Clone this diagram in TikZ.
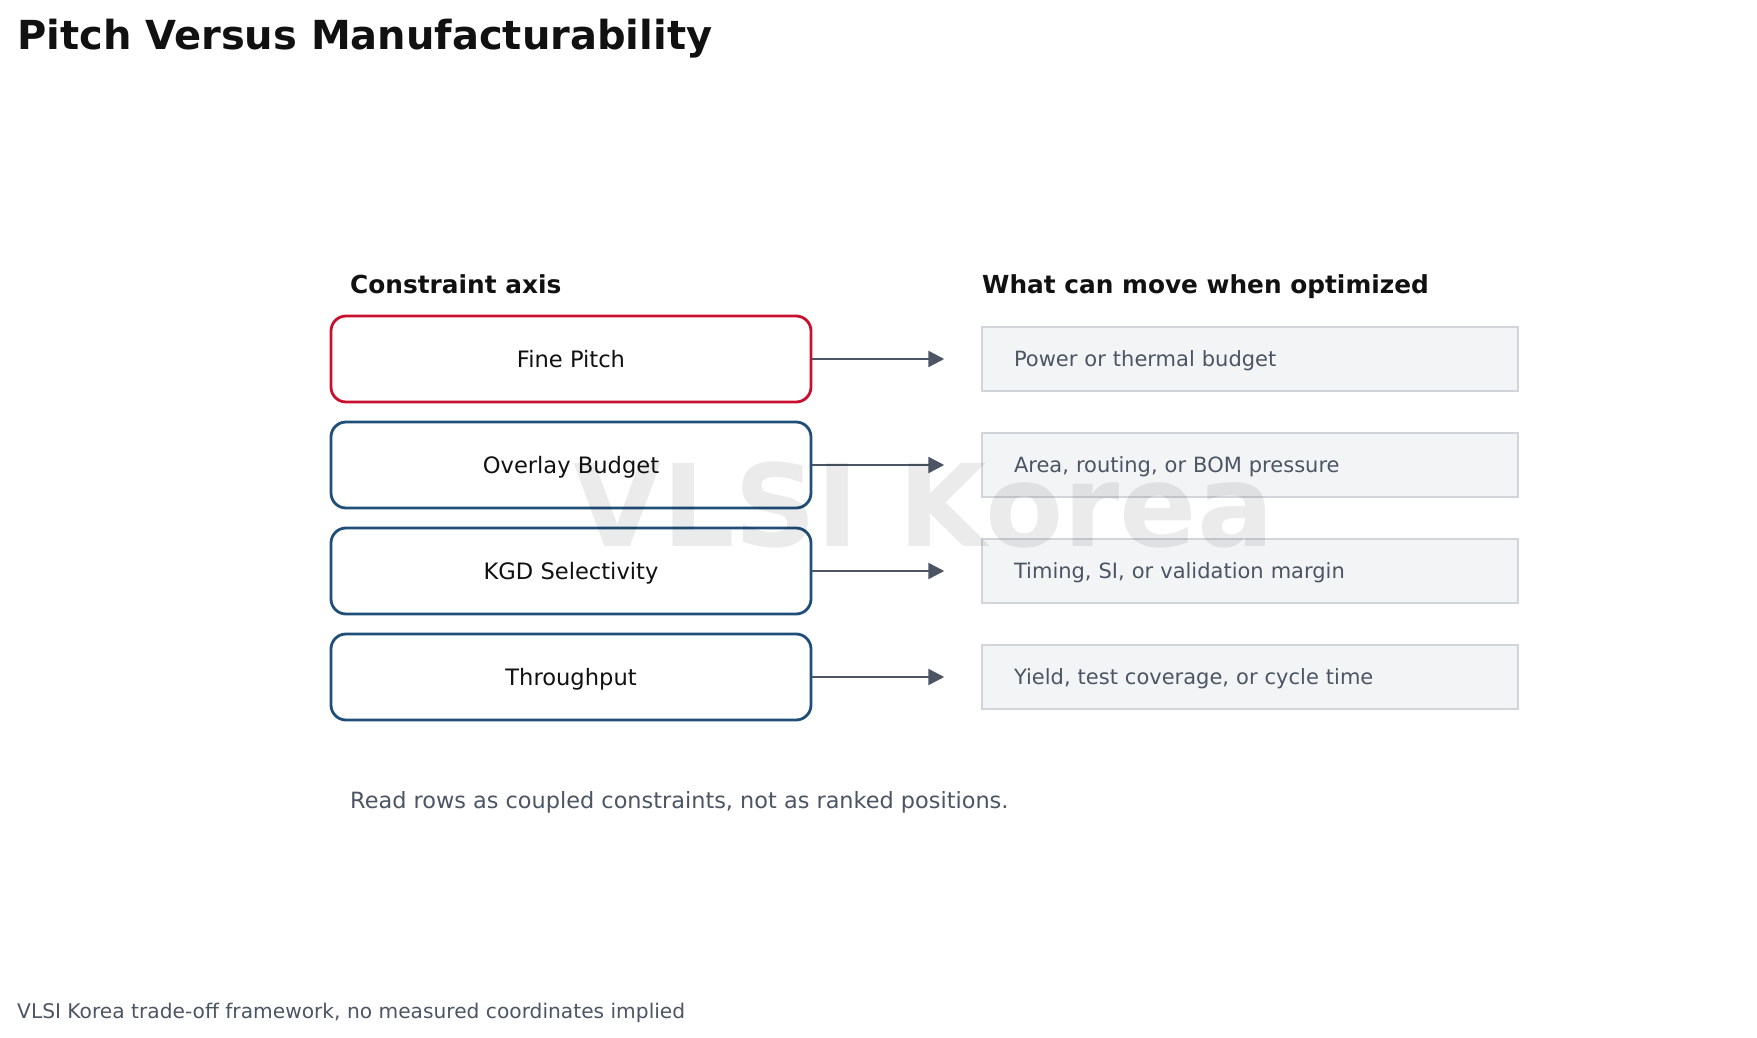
\documentclass[tikz,border=0pt]{standalone}
\usepackage{fontspec}
\setmainfont{DejaVu Sans}
\usepackage{xcolor}
\usetikzlibrary{arrows.meta,positioning}
\definecolor{inkblack}{HTML}{111111}
\definecolor{slate}{HTML}{4B5563}
\definecolor{axisblue}{HTML}{1F4E79}
\definecolor{hotred}{HTML}{C8102E}
\definecolor{boxgray}{HTML}{D1D5DB}
\definecolor{boxfill}{HTML}{F3F4F6}

\begin{document}
\begin{tikzpicture}[x=1pt, y=-1pt,
  axis/.style={draw=axisblue, line width=2.8pt, rounded corners=15pt, fill=white, minimum width=480pt, minimum height=86pt, text depth=0pt, font=\fontsize{22.6}{26}\selectfont, text=inkblack},
  hot/.style={axis, draw=hotred},
  move/.style={draw=boxgray, line width=1.5pt, fill=boxfill, minimum width=536pt, minimum height=64pt, text width=472pt, inner xsep=32pt, text depth=0pt, align=left, font=\fontsize{21}{25}\selectfont, text=slate},
  head/.style={anchor=base west, inner sep=0pt, font=\bfseries\fontsize{24.8}{28}\selectfont, text=inkblack},
  note/.style={anchor=base west, inner sep=0pt, text=slate},
  arrow/.style={-{Triangle[length=16pt, width=16pt]}, line width=2.5pt, draw=slate, shorten >=37pt}
]
\useasboundingbox (0,0) rectangle (1757,1038);

% Titel
\node[anchor=base west, inner sep=0pt, font=\bfseries\fontsize{40}{48}\selectfont, text=inkblack] (title) at (17,50) {Pitch Versus Manufacturability};

% Spaltenkoepfe
\node[head] (axishead) at (350,293) {Constraint axis};
\node[head] (movehead) at (982,293) {What can move when optimized};

% Constraint-Achsen
\node[hot]  (finepitch)  at (571,359) {Fine Pitch};
\node[axis] (overlay)    at (571,465) {Overlay Budget};
\node[axis] (kgd)        at (571,571) {KGD Selectivity};
\node[axis] (throughput) at (571,677) {Throughput};

% Was sich bewegt
\node[move] (power)  at (1250,359) {Power or thermal budget};
\node[move] (area)   at (1250,465) {Area, routing, or BOM pressure};
\node[move] (timing) at (1250,571) {Timing, SI, or validation margin};
\node[move] (yield)  at (1250,677) {Yield, test coverage, or cycle time};

% Pfeile
\draw[arrow] (finepitch) -- (power);
\draw[arrow] (overlay) -- (area);
\draw[arrow] (kgd) -- (timing);
\draw[arrow] (throughput) -- (yield);

% Hinweise
\node[note, font=\fontsize{22.4}{26}\selectfont] (hint) at (350,808) {Read rows as coupled constraints, not as ranked positions.};
\node[note, font=\fontsize{20.2}{24}\selectfont] (footer) at (17,1018) {VLSI Korea trade-off framework, no measured coordinates implied};

% Wasserzeichen
\node[anchor=base, inner sep=0pt, font=\bfseries\fontsize{114}{118}\selectfont, text=black, text opacity=0.08] (mark) at (924,546) {VLSI Korea};
\end{tikzpicture}
\end{document}
